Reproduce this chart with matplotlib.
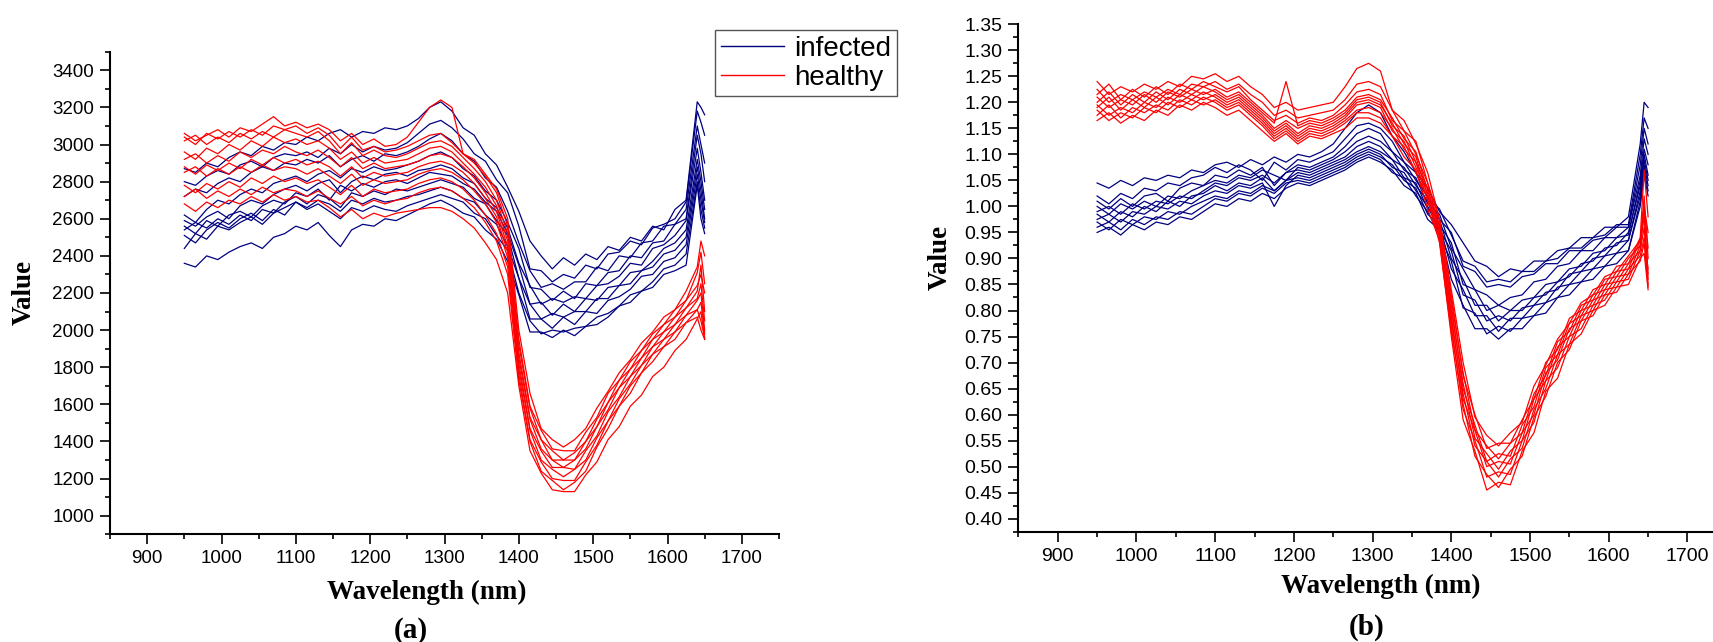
import matplotlib
matplotlib.use("Agg")
import matplotlib.pyplot as plt
from matplotlib.lines import Line2D
from matplotlib.ticker import MultipleLocator, FormatStrFormatter

plt.rcParams["font.family"] = ["Liberation Sans", "DejaVu Sans"]

# sampled wavelengths (nm), shared by every spectrum
wavelength = [950, 965, 980, 995, 1010, 1025, 1040, 1055, 1070, 1085,
              1100, 1115, 1130, 1145, 1160, 1175, 1190, 1205, 1220, 1235,
              1250, 1265, 1280, 1295, 1310, 1325, 1340, 1355, 1370, 1385,
              1400, 1415, 1430, 1445, 1460, 1475, 1490, 1505, 1520, 1535,
              1550, 1565, 1580, 1595, 1610, 1625, 1640, 1645, 1650]

# (a) raw values
infected_raw = [
    [2870, 2850, 2900, 2880, 2930, 2960, 2940, 2990, 2970, 3010,
     3000, 3040, 3020, 3060, 3080, 3040, 3070, 3060, 3090, 3080,
     3100, 3140, 3200, 3230, 3180, 3090, 3050, 2950, 2890, 2770,
     2640, 2480, 2400, 2330, 2390, 2350, 2410, 2380, 2450, 2430,
     2500, 2480, 2560, 2540, 2650, 2700, 3230, 3200, 3160],
    [2800, 2780, 2830, 2860, 2840, 2890, 2910, 2880, 2930, 2950,
     2940, 2960, 2930, 2980, 2950, 3000, 2960, 2990, 2970, 2980,
     3010, 3060, 3110, 3130, 3090, 3030, 2950, 2910, 2810, 2740,
     2560, 2330, 2320, 2260, 2300, 2280, 2350, 2330, 2410, 2420,
     2480, 2460, 2550, 2570, 2600, 2690, 3180, 3120, 3050],
    [2720, 2760, 2740, 2790, 2820, 2800, 2850, 2880, 2860, 2900,
     2890, 2920, 2900, 2940, 2880, 2920, 2940, 2910, 2950, 2940,
     2960, 2990, 3030, 3060, 3020, 2950, 2910, 2820, 2770, 2640,
     2470, 2320, 2230, 2250, 2220, 2260, 2260, 2340, 2320, 2400,
     2390, 2470, 2480, 2560, 2570, 2650, 3100, 3000, 2900],
    [2620, 2580, 2650, 2700, 2680, 2730, 2760, 2740, 2790, 2810,
     2830, 2800, 2840, 2860, 2820, 2870, 2850, 2880, 2860, 2870,
     2890, 2910, 2940, 2960, 2930, 2870, 2830, 2750, 2700, 2580,
     2440, 2230, 2220, 2160, 2210, 2170, 2250, 2240, 2310, 2320,
     2400, 2390, 2470, 2480, 2570, 2600, 3050, 2950, 2800],
    [2590, 2560, 2610, 2640, 2600, 2670, 2700, 2680, 2730, 2760,
     2780, 2750, 2790, 2810, 2740, 2800, 2830, 2810, 2840, 2850,
     2830, 2860, 2870, 2890, 2870, 2820, 2790, 2710, 2660, 2550,
     2360, 2240, 2140, 2170, 2150, 2180, 2170, 2240, 2250, 2290,
     2360, 2350, 2440, 2460, 2510, 2590, 2980, 2850, 2700],
    [2560, 2520, 2590, 2560, 2620, 2640, 2610, 2670, 2700, 2680,
     2740, 2720, 2760, 2700, 2780, 2750, 2790, 2770, 2800, 2810,
     2790, 2820, 2850, 2840, 2830, 2790, 2760, 2690, 2640, 2520,
     2350, 2140, 2150, 2080, 2140, 2100, 2170, 2160, 2230, 2240,
     2310, 2320, 2370, 2440, 2470, 2540, 2920, 2800, 2650],
    [2540, 2580, 2550, 2600, 2570, 2620, 2590, 2650, 2630, 2690,
     2720, 2680, 2730, 2710, 2660, 2740, 2720, 2750, 2730, 2760,
     2750, 2770, 2790, 2810, 2790, 2770, 2710, 2680, 2590, 2510,
     2280, 2140, 2060, 2090, 2070, 2100, 2100, 2170, 2170, 2240,
     2250, 2320, 2340, 2410, 2430, 2500, 2880, 2750, 2600],
    [2510, 2470, 2540, 2580, 2550, 2600, 2630, 2590, 2650, 2620,
     2690, 2660, 2700, 2680, 2640, 2700, 2680, 2710, 2690, 2700,
     2720, 2730, 2750, 2770, 2750, 2710, 2690, 2620, 2570, 2450,
     2280, 2060, 2060, 2010, 2070, 2030, 2100, 2090, 2160, 2180,
     2220, 2290, 2300, 2370, 2390, 2460, 2840, 2700, 2580],
    [2440, 2520, 2490, 2560, 2540, 2580, 2610, 2570, 2630, 2660,
     2690, 2650, 2680, 2640, 2600, 2660, 2640, 2670, 2650, 2640,
     2670, 2690, 2710, 2730, 2710, 2690, 2630, 2600, 2510, 2430,
     2200, 2050, 1980, 2000, 1990, 2010, 2020, 2070, 2090, 2130,
     2190, 2210, 2260, 2330, 2350, 2410, 2800, 2650, 2550],
    [2360, 2340, 2400, 2380, 2420, 2450, 2470, 2440, 2500, 2520,
     2560, 2540, 2580, 2510, 2450, 2540, 2570, 2560, 2600, 2590,
     2620, 2650, 2680, 2700, 2670, 2630, 2610, 2540, 2490, 2370,
     2190, 1990, 1990, 1960, 2000, 1970, 2020, 2030, 2070, 2130,
     2150, 2210, 2230, 2300, 2320, 2350, 2780, 2600, 2520],
]

healthy_raw = [
    [3060, 3020, 3050, 3080, 3040, 3090, 3070, 3110, 3150, 3100,
     3120, 3090, 3110, 3080, 3020, 3060, 3000, 3030, 2990, 3000,
     3040, 3120, 3200, 3240, 3200, 2950, 2920, 2840, 2760, 2600,
     2000, 1660, 1470, 1410, 1370, 1410, 1470, 1580, 1670, 1770,
     1840, 1930, 1990, 2070, 2110, 2210, 2340, 2480, 2400],
    [3040, 3000, 3060, 3030, 3070, 3040, 3080, 3050, 3100, 3080,
     3100, 3060, 3090, 3050, 2980, 3040, 2970, 2990, 2960, 2970,
     2990, 3020, 3050, 3060, 3010, 2950, 2900, 2830, 2740, 2560,
     1950, 1590, 1460, 1360, 1350, 1350, 1450, 1530, 1660, 1730,
     1830, 1890, 1980, 2030, 2110, 2160, 2310, 2420, 2250],
    [3020, 3050, 3000, 3040, 3010, 3060, 3030, 3070, 3040, 3080,
     3060, 3040, 3070, 3020, 2950, 3010, 2940, 2970, 2940, 2930,
     2950, 2980, 3010, 3020, 2990, 2930, 2870, 2800, 2700, 2520,
     1920, 1580, 1410, 1350, 1300, 1340, 1400, 1520, 1610, 1730,
     1790, 1890, 1950, 2030, 2070, 2160, 2240, 2300, 2200],
    [2960, 2920, 2980, 2950, 3000, 2970, 3020, 2990, 3040, 3010,
     3030, 3000, 3020, 2980, 2920, 2960, 2900, 2930, 2900, 2910,
     2920, 2950, 2980, 2990, 2960, 2900, 2840, 2770, 2670, 2480,
     1880, 1530, 1410, 1300, 1300, 1300, 1400, 1480, 1610, 1690,
     1790, 1850, 1950, 1990, 2070, 2120, 2210, 2350, 2100],
    [2920, 2950, 2900, 2940, 2910, 2960, 2930, 2970, 2950, 2990,
     2960, 2940, 2970, 2930, 2880, 2930, 2870, 2900, 2870, 2880,
     2890, 2910, 2940, 2950, 2930, 2880, 2820, 2740, 2640, 2450,
     1850, 1520, 1360, 1300, 1260, 1300, 1360, 1480, 1570, 1690,
     1750, 1850, 1910, 1990, 2030, 2120, 2170, 2250, 2050],
    [2880, 2840, 2890, 2860, 2900, 2870, 2920, 2890, 2930, 2900,
     2920, 2890, 2910, 2880, 2830, 2880, 2820, 2850, 2830, 2840,
     2850, 2880, 2900, 2910, 2890, 2850, 2790, 2710, 2610, 2420,
     1820, 1470, 1350, 1260, 1260, 1250, 1350, 1430, 1560, 1640,
     1750, 1810, 1910, 1950, 2030, 2080, 2160, 2200, 2000],
    [2850, 2880, 2830, 2870, 2840, 2880, 2850, 2890, 2860, 2880,
     2870, 2840, 2870, 2830, 2790, 2840, 2780, 2810, 2790, 2800,
     2810, 2840, 2860, 2870, 2850, 2810, 2750, 2680, 2580, 2390,
     1790, 1460, 1300, 1250, 1210, 1250, 1300, 1420, 1510, 1630,
     1710, 1810, 1870, 1950, 1990, 2080, 2110, 2150, 1980],
    [2780, 2740, 2790, 2760, 2800, 2770, 2820, 2790, 2830, 2800,
     2820, 2790, 2810, 2770, 2730, 2780, 2720, 2760, 2740, 2750,
     2760, 2790, 2810, 2820, 2800, 2760, 2700, 2620, 2520, 2340,
     1760, 1410, 1290, 1200, 1190, 1190, 1290, 1380, 1510, 1590,
     1700, 1770, 1870, 1910, 1990, 2040, 2110, 2050, 1960],
    [2720, 2760, 2710, 2750, 2720, 2760, 2730, 2770, 2740, 2760,
     2750, 2720, 2750, 2710, 2680, 2720, 2670, 2700, 2680, 2700,
     2710, 2740, 2760, 2770, 2750, 2710, 2660, 2580, 2480, 2300,
     1730, 1400, 1240, 1190, 1140, 1180, 1240, 1370, 1470, 1590,
     1660, 1770, 1830, 1910, 1950, 2040, 2070, 2000, 1950],
    [2680, 2640, 2690, 2660, 2700, 2680, 2720, 2690, 2730, 2700,
     2720, 2690, 2700, 2660, 2610, 2650, 2600, 2630, 2610, 2630,
     2640, 2650, 2660, 2660, 2640, 2600, 2550, 2470, 2380, 2200,
     1700, 1350, 1230, 1140, 1130, 1130, 1220, 1290, 1410, 1480,
     1590, 1650, 1750, 1800, 1890, 1950, 2060, 2100, 1950],
]

# (b) normalised values
infected_norm = [
    [1.045, 1.035, 1.050, 1.040, 1.055, 1.050, 1.060, 1.055, 1.070, 1.065,
     1.080, 1.085, 1.075, 1.090, 1.080, 1.095, 1.085, 1.100, 1.095, 1.105,
     1.120, 1.150, 1.180, 1.195, 1.180, 1.135, 1.105, 1.065, 1.035, 0.990,
     0.965, 0.930, 0.895, 0.885, 0.865, 0.880, 0.875, 0.895, 0.895, 0.915,
     0.920, 0.940, 0.940, 0.960, 0.960, 0.980, 1.120, 1.200, 1.190],
    [1.020, 1.005, 1.025, 1.015, 1.035, 1.030, 1.045, 1.040, 1.055, 1.060,
     1.075, 1.065, 1.080, 1.070, 1.050, 1.085, 1.070, 1.090, 1.085, 1.095,
     1.105, 1.130, 1.155, 1.160, 1.150, 1.125, 1.085, 1.065, 1.015, 0.995,
     0.945, 0.895, 0.885, 0.855, 0.860, 0.855, 0.875, 0.875, 0.895, 0.900,
     0.920, 0.920, 0.940, 0.945, 0.965, 0.965, 1.100, 1.170, 1.150],
    [1.010, 0.995, 1.015, 1.000, 1.020, 1.025, 1.010, 1.035, 1.045, 1.040,
     1.060, 1.055, 1.070, 1.060, 1.075, 1.040, 1.065, 1.080, 1.075, 1.085,
     1.095, 1.115, 1.140, 1.150, 1.140, 1.105, 1.085, 1.050, 1.020, 0.975,
     0.950, 0.885, 0.875, 0.845, 0.850, 0.845, 0.865, 0.870, 0.890, 0.890,
     0.915, 0.915, 0.935, 0.940, 0.960, 0.960, 1.080, 1.150, 1.120],
    [1.000, 0.985, 1.005, 0.995, 1.010, 1.000, 1.020, 1.015, 1.030, 1.040,
     1.050, 1.045, 1.060, 1.055, 1.070, 1.060, 1.050, 1.075, 1.070, 1.080,
     1.090, 1.105, 1.125, 1.135, 1.125, 1.105, 1.070, 1.055, 1.005, 0.985,
     0.920, 0.880, 0.840, 0.830, 0.810, 0.825, 0.830, 0.855, 0.860, 0.885,
     0.890, 0.915, 0.915, 0.940, 0.940, 0.960, 1.060, 1.130, 1.100],
    [0.990, 1.000, 0.985, 1.005, 0.995, 1.010, 1.005, 1.020, 1.015, 1.030,
     1.045, 1.040, 1.055, 1.050, 1.060, 1.045, 1.065, 1.070, 1.065, 1.075,
     1.085, 1.095, 1.115, 1.125, 1.115, 1.090, 1.075, 1.040, 1.010, 0.965,
     0.930, 0.850, 0.840, 0.800, 0.810, 0.800, 0.820, 0.825, 0.850, 0.855,
     0.880, 0.885, 0.910, 0.915, 0.940, 0.945, 1.050, 1.110, 1.080],
    [0.985, 0.970, 0.990, 0.980, 1.000, 0.990, 1.010, 1.000, 1.020, 1.025,
     1.040, 1.030, 1.045, 1.040, 1.055, 1.030, 1.050, 1.065, 1.060, 1.070,
     1.080, 1.090, 1.105, 1.115, 1.105, 1.090, 1.055, 1.045, 0.995, 0.975,
     0.900, 0.860, 0.810, 0.810, 0.780, 0.800, 0.800, 0.825, 0.830, 0.855,
     0.865, 0.890, 0.895, 0.920, 0.925, 0.950, 1.040, 1.100, 1.060],
    [0.975, 0.985, 0.970, 0.990, 0.985, 1.000, 0.995, 1.010, 1.005, 1.020,
     1.030, 1.025, 1.040, 1.035, 1.045, 1.000, 1.040, 1.060, 1.055, 1.065,
     1.075, 1.085, 1.100, 1.110, 1.100, 1.075, 1.065, 1.030, 1.000, 0.955,
     0.915, 0.830, 0.820, 0.780, 0.790, 0.780, 0.805, 0.810, 0.835, 0.840,
     0.870, 0.875, 0.900, 0.905, 0.930, 0.935, 1.030, 1.090, 1.050],
    [0.970, 0.955, 0.975, 0.965, 0.980, 0.975, 0.990, 0.985, 1.000, 1.010,
     1.020, 1.015, 1.030, 1.025, 1.040, 1.030, 1.050, 1.055, 1.050, 1.060,
     1.070, 1.080, 1.095, 1.105, 1.095, 1.080, 1.050, 1.035, 0.985, 0.965,
     0.880, 0.840, 0.790, 0.790, 0.760, 0.785, 0.785, 0.810, 0.815, 0.845,
     0.850, 0.875, 0.880, 0.905, 0.910, 0.935, 1.020, 1.080, 1.040],
    [0.960, 0.970, 0.955, 0.975, 0.965, 0.980, 0.975, 0.990, 0.985, 1.000,
     1.015, 1.010, 1.025, 1.020, 1.035, 1.025, 1.045, 1.050, 1.045, 1.055,
     1.065, 1.075, 1.090, 1.100, 1.090, 1.065, 1.055, 1.020, 0.990, 0.945,
     0.895, 0.805, 0.795, 0.755, 0.770, 0.760, 0.785, 0.790, 0.815, 0.825,
     0.850, 0.855, 0.880, 0.885, 0.910, 0.915, 1.010, 1.070, 1.030],
    [0.950, 0.960, 0.945, 0.965, 0.955, 0.970, 0.965, 0.980, 0.975, 0.990,
     1.005, 1.000, 1.015, 1.010, 1.025, 1.015, 1.035, 1.045, 1.040, 1.050,
     1.060, 1.070, 1.085, 1.095, 1.085, 1.070, 1.040, 1.025, 0.975, 0.955,
     0.860, 0.810, 0.765, 0.765, 0.745, 0.765, 0.765, 0.790, 0.795, 0.825,
     0.830, 0.855, 0.860, 0.885, 0.890, 0.915, 1.000, 1.060, 1.020],
]

healthy_norm = [
    [1.240, 1.215, 1.230, 1.220, 1.235, 1.225, 1.240, 1.230, 1.250, 1.245,
     1.255, 1.240, 1.250, 1.230, 1.215, 1.190, 1.200, 1.185, 1.190, 1.195,
     1.200, 1.230, 1.265, 1.275, 1.260, 1.185, 1.165, 1.120, 1.065, 0.975,
     0.840, 0.700, 0.595, 0.560, 0.540, 0.565, 0.585, 0.655, 0.695, 0.745,
     0.775, 0.815, 0.830, 0.865, 0.875, 0.905, 0.935, 1.000, 0.950],
    [1.225, 1.200, 1.215, 1.205, 1.220, 1.210, 1.225, 1.215, 1.235, 1.230,
     1.240, 1.225, 1.235, 1.215, 1.200, 1.175, 1.185, 1.170, 1.175, 1.180,
     1.185, 1.205, 1.235, 1.240, 1.230, 1.185, 1.145, 1.125, 1.045, 0.975,
     0.830, 0.675, 0.600, 0.535, 0.545, 0.545, 0.590, 0.630, 0.700, 0.725,
     0.785, 0.800, 0.840, 0.850, 0.885, 0.890, 0.940, 1.070, 0.980],
    [1.215, 1.235, 1.205, 1.225, 1.210, 1.230, 1.215, 1.235, 1.225, 1.240,
     1.230, 1.220, 1.230, 1.205, 1.185, 1.165, 1.175, 1.160, 1.170, 1.165,
     1.175, 1.195, 1.220, 1.225, 1.215, 1.165, 1.145, 1.100, 1.045, 0.960,
     0.820, 0.680, 0.570, 0.540, 0.515, 0.545, 0.565, 0.640, 0.675, 0.740,
     0.760, 0.810, 0.820, 0.860, 0.865, 0.900, 0.925, 1.020, 0.900],
    [1.210, 1.190, 1.205, 1.195, 1.215, 1.200, 1.220, 1.210, 1.225, 1.215,
     1.225, 1.210, 1.220, 1.200, 1.180, 1.160, 1.240, 1.155, 1.165, 1.160,
     1.170, 1.185, 1.210, 1.215, 1.205, 1.170, 1.130, 1.105, 1.030, 0.965,
     0.810, 0.650, 0.580, 0.510, 0.525, 0.520, 0.580, 0.615, 0.690, 0.715,
     0.775, 0.790, 0.830, 0.840, 0.875, 0.880, 0.935, 0.980, 0.870],
    [1.200, 1.220, 1.195, 1.215, 1.200, 1.220, 1.205, 1.225, 1.215, 1.230,
     1.220, 1.205, 1.215, 1.195, 1.175, 1.150, 1.165, 1.150, 1.160, 1.155,
     1.165, 1.180, 1.205, 1.210, 1.200, 1.155, 1.135, 1.085, 1.035, 0.950,
     0.800, 0.660, 0.555, 0.525, 0.495, 0.530, 0.550, 0.630, 0.665, 0.730,
     0.750, 0.800, 0.810, 0.850, 0.855, 0.890, 0.915, 0.960, 0.850],
    [1.195, 1.175, 1.190, 1.180, 1.200, 1.190, 1.210, 1.200, 1.215, 1.205,
     1.215, 1.200, 1.210, 1.190, 1.170, 1.145, 1.160, 1.140, 1.155, 1.150,
     1.160, 1.175, 1.200, 1.205, 1.195, 1.160, 1.120, 1.095, 1.020, 0.955,
     0.790, 0.630, 0.570, 0.500, 0.510, 0.505, 0.565, 0.600, 0.680, 0.705,
     0.765, 0.780, 0.820, 0.830, 0.865, 0.870, 0.925, 1.000, 0.920],
    [1.190, 1.210, 1.185, 1.205, 1.190, 1.210, 1.195, 1.215, 1.205, 1.220,
     1.210, 1.195, 1.205, 1.185, 1.165, 1.140, 1.155, 1.135, 1.150, 1.145,
     1.155, 1.170, 1.195, 1.200, 1.190, 1.145, 1.125, 1.075, 1.025, 0.940,
     0.780, 0.640, 0.540, 0.510, 0.480, 0.515, 0.535, 0.610, 0.650, 0.715,
     0.735, 0.790, 0.800, 0.840, 0.845, 0.880, 0.905, 0.940, 0.880],
    [1.185, 1.165, 1.180, 1.170, 1.190, 1.180, 1.200, 1.190, 1.205, 1.195,
     1.205, 1.190, 1.200, 1.180, 1.160, 1.135, 1.150, 1.130, 1.145, 1.140,
     1.150, 1.165, 1.185, 1.190, 1.180, 1.150, 1.110, 1.085, 1.010, 0.945,
     0.770, 0.610, 0.550, 0.480, 0.490, 0.485, 0.550, 0.585, 0.665, 0.690,
     0.750, 0.765, 0.810, 0.820, 0.855, 0.860, 0.915, 0.990, 0.860],
    [1.175, 1.195, 1.170, 1.190, 1.180, 1.195, 1.185, 1.205, 1.195, 1.210,
     1.200, 1.185, 1.195, 1.175, 1.155, 1.130, 1.145, 1.125, 1.140, 1.135,
     1.145, 1.160, 1.180, 1.180, 1.170, 1.135, 1.115, 1.065, 1.015, 0.930,
     0.760, 0.620, 0.520, 0.485, 0.460, 0.495, 0.520, 0.595, 0.635, 0.700,
     0.725, 0.780, 0.790, 0.830, 0.835, 0.870, 0.895, 0.930, 0.845],
    [1.165, 1.180, 1.160, 1.175, 1.165, 1.185, 1.175, 1.195, 1.185, 1.200,
     1.190, 1.175, 1.185, 1.165, 1.145, 1.125, 1.140, 1.120, 1.135, 1.130,
     1.140, 1.150, 1.170, 1.170, 1.160, 1.135, 1.095, 1.070, 0.995, 0.935,
     0.750, 0.590, 0.530, 0.455, 0.470, 0.465, 0.530, 0.565, 0.645, 0.670,
     0.735, 0.755, 0.800, 0.810, 0.845, 0.850, 0.900, 0.910, 0.840],
]

INFECTED = "#000080"
HEALTHY = "#ff0000"
SERIF = ["Liberation Serif", "DejaVu Serif"]
W, H = 1713, 642


def _px(x, y):
    # figure fraction from pixel position (origin top-left)
    return x / W, 1 - y / H


def _style(ax, ylim, ymajor, yminor, size, fmt=None):
    ax.set_xlim(850, 1750)
    ax.set_ylim(*ylim)
    ax.xaxis.set_major_locator(MultipleLocator(100))
    ax.xaxis.set_minor_locator(MultipleLocator(50))
    ax.yaxis.set_major_locator(MultipleLocator(ymajor))
    ax.yaxis.set_minor_locator(MultipleLocator(yminor))
    if fmt:
        ax.yaxis.set_major_formatter(FormatStrFormatter(fmt))
    for side in ("top", "right"):
        ax.spines[side].set_visible(False)
    for side in ("left", "bottom"):
        ax.spines[side].set_linewidth(1.5)
    ax.tick_params(which="major", direction="out", length=7.5, width=1.2,
                   labelsize=size, pad=4)
    ax.tick_params(which="minor", direction="out", length=3.8, width=1.2)


def _draw(ax, infected, healthy):
    for row in infected:
        ax.plot(wavelength, row, color=INFECTED, lw=0.9)
    for row in healthy:
        ax.plot(wavelength, row, color=HEALTHY, lw=0.9)


fig = plt.figure(figsize=(W / 100, H / 100), dpi=100)
ax_a = fig.add_axes([110 / W, 1 - 534.3 / H, 669 / W, 482.6 / H])
ax_b = fig.add_axes([1018.4 / W, 1 - 531.7 / H, 708.4 / W, 507.7 / H])

_draw(ax_a, infected_raw, healthy_raw)
_draw(ax_b, infected_norm, healthy_norm)
_style(ax_a, (900, 3500), 200, 100, 13.5)
_style(ax_b, (0.375, 1.3505), 0.05, 0.025, 14, "%.2f")

# axis titles and panel tags
lab = dict(family=SERIF, weight="bold", fontsize=19.5, ha="center", va="center")
fig.text(*_px(24, 292), "Value", rotation=90, **lab)
fig.text(*_px(940, 257), "Value", rotation=90, **lab)
fig.text(*_px(427, 592), "Wavelength (nm)", **lab)
fig.text(*_px(1381, 586), "Wavelength (nm)", **lab)
tag = dict(family=SERIF, weight="bold", fontsize=21, ha="center", va="center")
fig.text(*_px(411, 630), "(a)", **tag)
fig.text(*_px(1367, 627), "(b)", **tag)

handles = [Line2D([], [], color=INFECTED, lw=1.0),
           Line2D([], [], color=HEALTHY, lw=1.0)]
leg = fig.legend(handles, ["infected", "healthy"], loc="upper left",
                 bbox_to_anchor=_px(715, 30), fontsize=20, frameon=True,
                 fancybox=False, edgecolor="#555555", framealpha=1,
                 borderpad=0.2, labelspacing=0.12, handlelength=2.3,
                 handletextpad=0.35, borderaxespad=0)
leg.get_frame().set_linewidth(1.0)

fig.savefig("out.png", dpi=100)
